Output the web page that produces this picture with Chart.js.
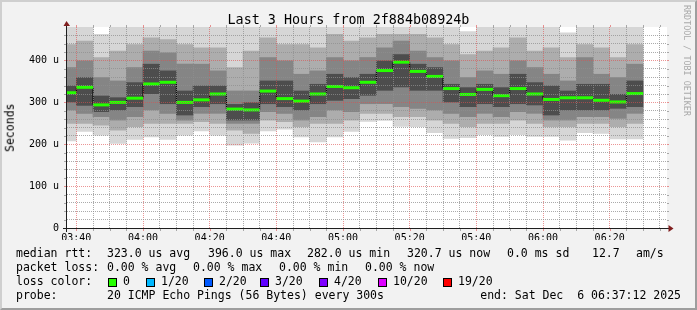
<!DOCTYPE html>
<html>
<head>
<meta charset="utf-8">
<script src="https://cdn.jsdelivr.net/npm/chart.js@4.4.1/dist/chart.umd.min.js"></script>
<style>
  html, body { margin: 0; padding: 0; }
  body { width: 697px; height: 310px; background: #f2f2f2; position: relative; overflow: hidden;
         font-family: "DejaVu Sans Mono", monospace; color: #000; }
  #frame { position: absolute; left: 0; top: 0; width: 697px; height: 310px; box-sizing: border-box;
           border: 2px solid; border-color: #cfcfcf #9e9e9e #9e9e9e #cfcfcf; }
  #chart { position: absolute; left: 0; top: 0; }
  .t { position: absolute; white-space: pre; }
  .box { position: absolute; width: 9px; height: 9px; box-sizing: border-box; border: 1px solid #000; }
  .vert { position: absolute; writing-mode: vertical-rl; white-space: pre; }
</style>
</head>
<body>
<div id="frame"></div>
<canvas id="chart" width="697" height="310"></canvas>
<script>
// time window (end 06:37:12, 3 hours back)
const startTime = '03:37:12';
const endTime = '06:37:12';

// 5 minute bins (start time of each bin)
const bins = ['03:35','03:40','03:45','03:50','03:55','04:00','04:05','04:10','04:15','04:20','04:25','04:30',
  '04:35','04:40','04:45','04:50','04:55','05:00','05:05','05:10','05:15','05:20','05:25','05:30',
  '05:35','05:40','05:45','05:50','05:55','06:00','06:05','06:10','06:15','06:20','06:25'];

// median rtt per bin (microseconds)
const median = [323,336,294,300,310,344,348,300,306,320,284,282,327,309,303,320,338,335,
  348,376,396,374,362,333,319,331,316,333,320,307,311,311,305,301,321];

// smoke: slowest / fastest ping per bin (values above 480 are cut off by the graph)
const pingMax = [490,490,463,490,490,490,490,490,490,490,490,490,490,490,490,490,490,490,
  490,490,490,490,490,490,470,490,490,490,490,490,467,490,490,490,490];
const pingMin = [207,230,221,201,211,217,211,221,231,221,197,202,231,235,217,205,217,230,
  254,256,242,241,227,213,215,222,218,222,218,218,209,227,225,212,212];

// inner smoke bands (lighter outside, darker near the median)
const band2Hi = [439,447,408,423,439,455,451,439,431,431,384,423,455,439,439,431,463,447,
  455,463,463,463,455,439,415,423,431,455,423,431,408,439,431,408,439];
const band2Lo = [249,249,245,233,241,249,249,249,253,249,233,225,257,253,241,249,249,257,
  273,273,265,265,257,249,241,249,249,257,249,241,241,249,249,241,249];
const band3Hi = [384,400,360,352,384,423,419,392,392,376,328,328,408,400,368,376,408,400,
  408,431,447,423,408,400,360,376,368,400,384,368,352,408,368,360,392];
const band3Lo = [281,273,265,257,265,281,273,257,273,273,249,249,277,273,257,265,281,277,
  296,296,289,285,281,273,265,273,265,277,273,257,257,265,265,261,273];
const band4Hi = [340,360,316,312,348,392,376,328,340,340,296,300,352,352,328,344,368,360,
  368,400,415,392,384,344,336,344,336,368,348,340,328,344,344,320,352];
const band4Lo = [300,292,277,281,289,320,296,269,289,296,257,257,296,289,281,296,304,308,
  316,328,336,328,328,300,289,296,289,296,293,269,281,281,281,285,289];

// y axis range (microseconds) and x grid (minutes after midnight)
const yMax = 480;
const xGridFirst = '03:40';
const xGridLast = '06:35';

// loss colour legend
const lossLabels = ['0', '1/20', '2/20', '3/20', '4/20', '10/20', '19/20'];
const lossColors = ['#26ff00', '#00b8ff', '#0059ff', '#5e00ff', '#7e00ff', '#dd00ff', '#ff0000'];

const toMin = s => {
  const p = s.split(':').map(Number);
  return p[0] * 60 + p[1] + (p[2] || 0) / 60;
};
const fmt = v => String(Math.floor(v / 60)).padStart(2, '0') + ':' + String(Math.round(v % 60)).padStart(2, '0');

const centers = bins.map(b => toMin(b) + 2.5);
const band = (lo, hi) => centers.map((x, i) => ({ x, y: [lo[i], hi[i]] }));
const points = centers.map((x, i) => ({ x, y: median[i] }));

const MONO = '"DejaVu Sans Mono", monospace';
const GRID = 'rgba(143,143,143,0.75)';
const MGRID = 'rgba(222,79,79,0.6)';

function smoke(data, color, order) {
  return {
    type: 'bar', data, backgroundColor: color, borderWidth: 0,
    barPercentage: 1.04, categoryPercentage: 1, grouped: false, clip: 0, order
  };
}

// white canvas, axes with arrows, small tick marks like rrdtool
const rrdFrame = {
  id: 'rrdFrame',
  beforeDraw(chart) {
    const { ctx, chartArea: a } = chart;
    ctx.save();
    ctx.fillStyle = '#fff';
    ctx.fillRect(a.left, a.top, a.right - a.left, a.bottom - a.top);
    ctx.restore();
  },
  afterDraw(chart) {
    const { ctx, chartArea: a, scales } = chart;
    ctx.save();
    ctx.lineWidth = 1;
    scales.y.ticks.forEach(t => {
      if (t.value === 0 || t.value === yMax) return;
      const y = Math.round(scales.y.getPixelForValue(t.value)) + 0.5;
      ctx.strokeStyle = t.value % 100 === 0 ? MGRID : GRID;
      ctx.beginPath();
      ctx.moveTo(a.left - 3, y); ctx.lineTo(a.left - 1, y);
      ctx.moveTo(a.right, y); ctx.lineTo(a.right + 2, y);
      ctx.stroke();
    });
    scales.x.ticks.forEach(t => {
      const x = Math.round(scales.x.getPixelForValue(t.value)) + 0.5;
      ctx.strokeStyle = t.value % 20 === 0 ? MGRID : GRID;
      ctx.beginPath();
      ctx.moveTo(x, a.top - 2); ctx.lineTo(x, a.top);
      ctx.moveTo(x, a.bottom + 1); ctx.lineTo(x, a.bottom + 3);
      ctx.stroke();
    });
    ctx.strokeStyle = '#1f1f1f';
    ctx.beginPath();
    ctx.moveTo(a.left - 4, a.bottom + 0.5); ctx.lineTo(a.right + 2, a.bottom + 0.5);
    ctx.moveTo(a.left - 0.5, a.bottom + 4); ctx.lineTo(a.left - 0.5, a.top - 2);
    ctx.stroke();
    ctx.fillStyle = '#801f1f';
    ctx.beginPath();
    ctx.moveTo(a.right + 1.5, a.bottom - 3); ctx.lineTo(a.right + 1.5, a.bottom + 4); ctx.lineTo(a.right + 6.5, a.bottom + 0.5);
    ctx.closePath(); ctx.fill();
    ctx.beginPath();
    ctx.moveTo(a.left - 3.5, a.top - 1); ctx.lineTo(a.left + 3, a.top - 1); ctx.lineTo(a.left - 0.5, a.top - 6);
    ctx.closePath(); ctx.fill();
    ctx.restore();
  }
};

new Chart(document.getElementById('chart'), {
  type: 'bar',
  data: {
    datasets: [
      {
        type: 'line', data: points, showLine: false, pointStyle: 'line',
        pointRadius: 8.4, pointBorderWidth: 3, pointBorderColor: lossColors[0], clip: 0, order: 0
      },
      {
        type: 'line', data: points, stepped: 'middle', borderColor: '#000', borderWidth: 1,
        pointRadius: 0, clip: 0, order: 1
      },
      smoke(band(band4Lo, band4Hi), '#4d4d4d', 2),
      smoke(band(band3Lo, band3Hi), '#858585', 3),
      smoke(band(band2Lo, band2Hi), '#adadad', 4),
      smoke(band(pingMin, pingMax), '#d6d6d6', 5)
    ]
  },
  options: {
    responsive: false,
    animation: false,
    events: [],
    layout: { padding: { left: 0, right: 30, top: 27, bottom: 70 } },
    plugins: { legend: { display: false }, tooltip: { enabled: false }, title: { display: false } },
    scales: {
      x: {
        type: 'linear', position: 'bottom', offset: false,
        min: toMin(startTime), max: toMin(endTime),
        grid: { z: 1, drawTicks: false, offset: false, lineWidth: 1,
          color: c => c.tick && c.tick.value % 20 === 0 ? MGRID : GRID },
        border: { display: false, dash: [1, 1] },
        ticks: {
          autoSkip: false, maxRotation: 0, minRotation: 0,
          padding: 4, color: '#000', font: { family: MONO, size: 10 },
          callback: v => (v % 20 === 0 ? fmt(v) : '')
        },
        afterBuildTicks: s => {
          const ticks = [];
          for (let v = toMin(xGridFirst); v <= toMin(xGridLast); v += 5) ticks.push({ value: v });
          s.ticks = ticks;
        },
        afterFit: s => { s.height = 12; }
      },
      y: {
        type: 'linear', min: 0, max: yMax,
        grid: { z: 1, drawTicks: false, lineWidth: 1,
          color: c => {
            const v = c.tick ? c.tick.value : 0;
            if (v === 0 || v === yMax) return 'rgba(0,0,0,0)';
            return v % 100 === 0 ? MGRID : GRID;
          } },
        border: { display: false, dash: [1, 1] },
        ticks: {
          stepSize: 20, autoSkip: false, padding: 8, color: '#000', font: { family: MONO, size: 10 },
          callback: v => (v % 100 === 0 ? (v === 0 ? '0' : v + ' u') : '')
        },
        afterFit: s => { s.width = 67; }
      }
    }
  },
  plugins: [rrdFrame]
});

// ---- texts around the graph ----
function putText(str, x, baseline, size, opts) {
  const el = document.createElement('div');
  el.className = 't';
  el.textContent = str;
  el.style.fontSize = size + 'px';
  el.style.lineHeight = size + 'px';
  el.style.top = (baseline - 0.846 * size) + 'px';
  if (opts && opts.right !== undefined) el.style.right = opts.right + 'px';
  else el.style.left = x + 'px';
  if (opts && opts.center) { el.style.left = '0px'; el.style.width = '697px'; el.style.textAlign = 'center'; }
  document.body.appendChild(el);
  return el;
}

putText('Last 3 Hours from 2f884b08924b', 0, 24, 13.4, { center: true });

// y axis title, turned to read bottom to top
const yTitle = putText('Seconds', 0, 0, 11.5);
Object.assign(yTitle.style, { left: '-14px', top: '122px', width: '49px', textAlign: 'center', transform: 'rotate(-90deg)' });

const mark = document.createElement('div');
mark.className = 'vert';
mark.textContent = 'RRDTOOL / TOBI OETIKER';
Object.assign(mark.style, { left: '683px', top: '5px', fontSize: '8.4px', lineHeight: '8.4px', color: '#a9a9a9' });
document.body.appendChild(mark);

const LS = 11.5;
const rtt = [
  ['median rtt:', 16], ['323.0 us avg', 107], ['396.0 us max', 208], ['282.0 us min', 307],
  ['320.7 us now', 407], ['0.0 ms sd', 507], ['12.7', 592], ['am/s', 636]
];
rtt.forEach(([s, x]) => putText(s, x, 257.5, LS));

const loss = [
  ['packet loss:', 16], ['0.00 % avg', 107], ['0.00 % max', 193], ['0.00 % min', 279], ['0.00 % now', 365]
];
loss.forEach(([s, x]) => putText(s, x, 271.5, LS));

putText('loss color:', 16, 285.5, LS);
const boxX = [108, 146, 204, 260, 319, 378, 443];
lossLabels.forEach((lab, i) => {
  const b = document.createElement('div');
  b.className = 'box';
  b.style.left = boxX[i] + 'px';
  b.style.top = '278px';
  b.style.background = lossColors[i];
  document.body.appendChild(b);
  putText(lab, boxX[i] + 15, 285.5, LS);
});

putText('probe:', 16, 299.5, LS);
putText('20 ICMP Echo Pings (56 Bytes) every 300s', 107, 299.5, LS);
putText('end: Sat Dec  6 06:37:12 2025', 0, 299.5, LS, { right: 16 });
</script>
</body>
</html>
